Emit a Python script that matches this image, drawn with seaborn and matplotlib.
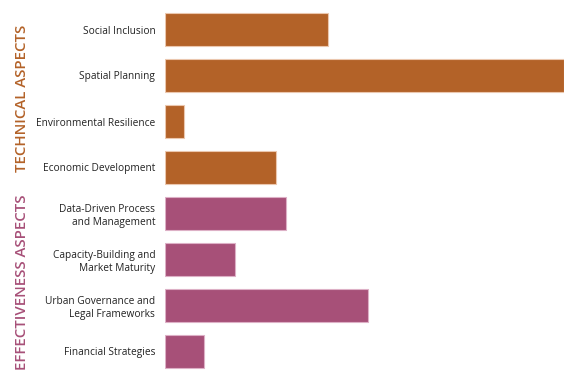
import matplotlib
matplotlib.use("Agg")
import matplotlib.pyplot as plt
import seaborn as sns
import pandas as pd

sns.set_style("white")
plt.rcParams['font.family'] = ['Open Sans', 'DejaVu Sans']

# data (relative bar lengths)
categories = ["Social Inclusion", "Spatial Planning", "Environmental Resilience",
              "Economic Development", "Data-Driven Process\nand Management",
              "Capacity-Building and\nMarket Maturity",
              "Urban Governance and\nLegal Frameworks", "Financial Strategies"]
values = [163, 399, 19, 111, 121, 70, 203, 39]
groups = ["Technical"] * 4 + ["Effectiveness"] * 4
group_titles = {"Technical": "TECHNICAL ASPECTS", "Effectiveness": "EFFECTIVENESS ASPECTS"}

orange = "#B36228"
pink = "#A75078"
palette = {"Technical": orange, "Effectiveness": pink}
edge = {"Technical": "#EBC7AE", "Effectiveness": "#DDB0C6"}

df = pd.DataFrame({"Category": categories, "Value": values, "Group": groups})

fig = plt.figure(figsize=(5.76, 3.81), dpi=100)
ax = fig.add_axes([165 / 576, 6.5 / 381, (564 - 165) / 576, 368 / 381])

sns.barplot(data=df, y="Category", x="Value", hue="Group", palette=palette,
            dodge=False, width=0.72, legend=False, ax=ax, saturation=1)

for bar, g in zip(ax.patches, groups):
    bar.set_edgecolor(edge[g])
    bar.set_linewidth(0.8)

ax.set_xlim(0, max(values))
ax.set_ylim(len(categories) - 0.5, -0.5)
ax.set_xlabel("")
ax.set_ylabel("")
ax.set_xticks([])
ax.tick_params(axis='y', length=0, pad=7, labelsize=7.3, labelcolor="#222222")
for lbl in ax.get_yticklabels():
    lbl.set_horizontalalignment("right")
    lbl.set_multialignment("right")
sns.despine(ax=ax, left=True, bottom=True)

# rotated group titles, centred on each block of bars
for g, col in [("Technical", orange), ("Effectiveness", pink)]:
    idx = [i for i, gg in enumerate(groups) if gg == g]
    yc = (idx[0] + idx[-1]) / 2
    ax.text(-143 / 399 * max(values), yc, group_titles[g], rotation=90,
            ha="center", va="center", color=col, fontsize=10.8,
            fontweight="semibold", transform=ax.transData)

fig.savefig("out.png", dpi=100)
